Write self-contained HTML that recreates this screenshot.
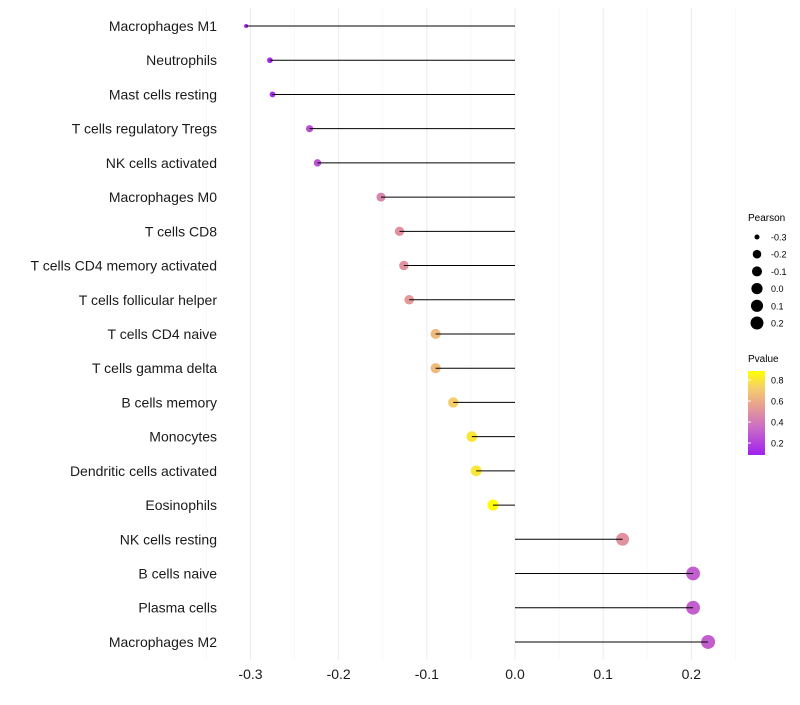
<!DOCTYPE html>
<html><head><meta charset="utf-8"><style>
body{margin:0;background:#fff;font-family:"Liberation Sans",sans-serif}
</style></head><body>
<svg id="c" width="800" height="700" xmlns="http://www.w3.org/2000/svg">
<defs><linearGradient id="pg" x1="0" y1="1" x2="0" y2="0">
<stop offset="0" stop-color="#A020F0"/><stop offset="0.33" stop-color="#CB6DC6"/><stop offset="0.6" stop-color="#E9A38E"/><stop offset="0.8" stop-color="#F5CF6A"/><stop offset="1" stop-color="#FFFF00"/></linearGradient></defs>
<g id="grid"></g><g id="points"></g><g id="marks"></g><g id="labels"></g><g id="legend"></g>
</svg>
<script>
const categories=["Macrophages M1","Neutrophils","Mast cells resting","T cells regulatory  Tregs","NK cells activated","Macrophages M0","T cells CD8","T cells CD4 memory activated","T cells follicular helper","T cells CD4 naive","T cells gamma delta","B cells memory","Monocytes","Dendritic cells activated","Eosinophils","NK cells resting","B cells naive","Plasma cells","Macrophages M2"];
const pearson=[-0.305,-0.278,-0.275,-0.233,-0.224,-0.152,-0.131,-0.126,-0.120,-0.090,-0.090,-0.070,-0.049,-0.044,-0.025,0.122,0.202,0.202,0.219];
const pvalue=[0.12,0.13,0.13,0.25,0.26,0.45,0.5,0.5,0.52,0.65,0.65,0.72,0.8,0.8,0.9,0.5,0.3,0.3,0.3];
const xTicks=[-0.3,-0.2,-0.1,0.0,0.1,0.2];
const xTickLabels=["-0.3","-0.2","-0.1","0.0","0.1","0.2"];
const sizeLegend=[-0.3,-0.2,-0.1,0.0,0.1,0.2];
const pLegend=[0.8,0.6,0.4,0.2];
const NS="http://www.w3.org/2000/svg";
const X=v=>515+v*881.7;
const Y=i=>26+i*34.22;
const R=v=>1.5+5.5*Math.sqrt(Math.max(0,(v+0.31)/0.53));
const RL=v=>2.5+4*Math.sqrt(Math.max(0,(v+0.3)/0.5));
const stops=[[0,[160,32,240]],[0.33,[203,109,198]],[0.6,[233,163,142]],[0.8,[245,207,106]],[1,[255,255,0]]];
function col(p){let t=(p-0.086)/(0.886-0.086);t=Math.max(0,Math.min(1,t));
for(let k=1;k<stops.length;k++){if(t<=stops[k][0]){const a=stops[k-1],b=stops[k];const f=(t-a[0])/(b[0]-a[0]);
return "rgb("+a[1].map((c,j)=>Math.round(c+(b[1][j]-c)*f)).join(",")+")";}}return "rgb(255,255,0)";}
function mk(tag,attrs,parent,text){const e=document.createElementNS(NS,tag);for(const k in attrs)e.setAttribute(k,attrs[k]);if(text!==undefined)e.textContent=text;parent.appendChild(e);return e;}
const grid=document.getElementById('grid'),marks=document.getElementById('marks'),points=document.getElementById('points'),labels=document.getElementById('labels'),legend=document.getElementById('legend');
for(let v=-0.35;v<=0.25;v+=0.05){const g=mk('line',{x1:X(v),x2:X(v),y1:8,y2:660,stroke:Math.abs(Math.round(v*20))%2==0?"#ebebeb":"#f4f4f4","stroke-width":Math.abs(Math.round(v*20))%2==0?1:0.6},grid);

}
categories.forEach((c,i)=>{const l=mk('line',{x1:X(0),x2:X(pearson[i]),y1:Y(i),y2:Y(i),stroke:"#000","stroke-width":1},marks);


const p=mk('circle',{cx:X(pearson[i]),cy:Y(i),r:R(pearson[i]),fill:col(pvalue[i])},points);


const t=mk('text',{x:217,y:Y(i)+5,"text-anchor":"end","font-size":14,fill:"#1a1a1a"},labels,c);

});
xTicks.forEach((v,i)=>{const t=mk('text',{x:X(v),y:679,"text-anchor":"middle","font-size":14,fill:"#1a1a1a"},labels,xTickLabels[i]);

});
let t=mk('text',{x:748,y:221,"font-size":10},legend,"Pearson");


sizeLegend.forEach((v,i)=>{const y=237+i*17.2;const c=mk('circle',{cx:757,cy:y,r:RL(v),fill:"#000"},legend);


const l=mk('text',{x:771,y:y+3.5,"font-size":9},legend,(v===0?"0.0":v.toFixed(1)));

});
t=mk('text',{x:748,y:362,"font-size":10},legend,"Pvalue");


const bar=mk('rect',{x:748,y:371,width:17,height:84,fill:"url(#pg)"},legend);


pLegend.forEach(p=>{const y=455-(p-0.086)/0.8*84;
const l=mk('text',{x:771,y:y+3.5,"font-size":9},legend,p.toFixed(1));


const tk=mk('line',{x1:748,x2:751,y1:y,y2:y,stroke:"#fff"},legend);
});
</script>
</body></html>
